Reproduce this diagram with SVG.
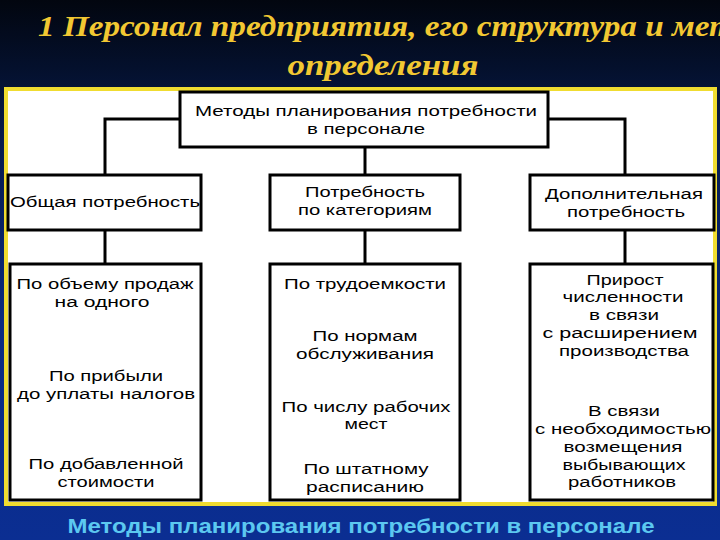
<svg xmlns="http://www.w3.org/2000/svg" width="720" height="540" viewBox="0 0 720 540">
<defs>
<linearGradient id="bg" x1="0" y1="0" x2="0" y2="1">
<stop offset="0" stop-color="#02060f"/>
<stop offset="0.25" stop-color="#061a4a"/>
<stop offset="0.6" stop-color="#0a2a80"/>
<stop offset="1" stop-color="#0b2e92"/>
</linearGradient>
<style>
.box{fill:#ffffff;stroke:#000000;stroke-width:3}
.ln{fill:none;stroke:#000000;stroke-width:3}
.t{font-family:"Liberation Sans",Arial,sans-serif;font-size:14px;fill:#000000;text-anchor:middle}
.title{font-family:"Liberation Serif","Times New Roman",serif;font-style:italic;font-weight:bold;font-size:30px;fill:#f2c832}
.cap{font-family:"Liberation Sans",Arial,sans-serif;font-weight:bold;font-size:20px;fill:#5cc8f0;text-anchor:middle}
</style>
</defs>
<rect x="0" y="0" width="720" height="540" fill="url(#bg)"/>
<g id="title">
<text class="title" x="38" y="36" textLength="752" lengthAdjust="spacingAndGlyphs">1 Персонал предприятия, его структура и методы</text>
<text class="title" x="383" y="75" text-anchor="middle" textLength="191" lengthAdjust="spacingAndGlyphs">определения</text>
</g>
<rect id="panel" x="6" y="89" width="709" height="415" fill="#ffffff" stroke="#f0dc30" stroke-width="4"/>
<g id="connectors">
<polyline class="ln" points="180,119 105,119 105,175"/>
<polyline class="ln" points="548,119 625,119 625,175"/>
<line class="ln" x1="365" y1="147" x2="365" y2="175"/>
<line class="ln" x1="105" y1="230" x2="105" y2="264"/>
<line class="ln" x1="365" y1="230" x2="365" y2="264"/>
<line class="ln" x1="625" y1="230" x2="625" y2="264"/>
</g>
<g id="root">
<rect class="box" x="180" y="92" width="368" height="55"/>
<text class="t" x="366" y="116" textLength="342" lengthAdjust="spacingAndGlyphs">Методы планирования потребности</text>
<text class="t" x="366" y="134" textLength="118" lengthAdjust="spacingAndGlyphs">в персонале</text>
</g>
<g id="general">
<rect class="box" x="8" y="175" width="193" height="55"/>
<text class="t" x="105" y="207" textLength="190" lengthAdjust="spacingAndGlyphs">Общая потребность</text>
</g>
<g id="category">
<rect class="box" x="270" y="175" width="190" height="55"/>
<text class="t" x="365" y="197" textLength="120" lengthAdjust="spacingAndGlyphs">Потребность</text>
<text class="t" x="365" y="215" textLength="134" lengthAdjust="spacingAndGlyphs">по категориям</text>
</g>
<g id="additional">
<rect class="box" x="530" y="175" width="184" height="55"/>
<text class="t" x="624" y="199" textLength="158" lengthAdjust="spacingAndGlyphs">Дополнительная</text>
<text class="t" x="626" y="217" textLength="118" lengthAdjust="spacingAndGlyphs">потребность</text>
</g>
<g id="general-methods">
<rect class="box" x="10" y="264" width="191" height="236"/>
<text class="t" x="105" y="289" textLength="177" lengthAdjust="spacingAndGlyphs">По объему продаж</text>
<text class="t" x="102" y="307" textLength="95" lengthAdjust="spacingAndGlyphs">на одного</text>
<text class="t" x="106" y="381" textLength="114" lengthAdjust="spacingAndGlyphs">По прибыли</text>
<text class="t" x="106" y="399" textLength="178" lengthAdjust="spacingAndGlyphs">до уплаты налогов</text>
<text class="t" x="106" y="469" textLength="155" lengthAdjust="spacingAndGlyphs">По добавленной</text>
<text class="t" x="106" y="487" textLength="97" lengthAdjust="spacingAndGlyphs">стоимости</text>
</g>
<g id="category-methods">
<rect class="box" x="270" y="264" width="190" height="236"/>
<text class="t" x="365" y="289" textLength="162" lengthAdjust="spacingAndGlyphs">По трудоемкости</text>
<text class="t" x="365" y="341" textLength="105" lengthAdjust="spacingAndGlyphs">По нормам</text>
<text class="t" x="365" y="359" textLength="138" lengthAdjust="spacingAndGlyphs">обслуживания</text>
<text class="t" x="366" y="412" textLength="169" lengthAdjust="spacingAndGlyphs">По числу рабочих</text>
<text class="t" x="366" y="429" textLength="43" lengthAdjust="spacingAndGlyphs">мест</text>
<text class="t" x="366" y="474" textLength="125" lengthAdjust="spacingAndGlyphs">По штатному</text>
<text class="t" x="365" y="492" textLength="118" lengthAdjust="spacingAndGlyphs">расписанию</text>
</g>
<g id="additional-methods">
<rect class="box" x="530" y="264" width="183" height="236"/>
<text class="t" x="625" y="285" textLength="77" lengthAdjust="spacingAndGlyphs">Прирост</text>
<text class="t" x="623" y="302" textLength="121" lengthAdjust="spacingAndGlyphs">численности</text>
<text class="t" x="624" y="320" textLength="70" lengthAdjust="spacingAndGlyphs">в связи</text>
<text class="t" x="620" y="338" textLength="155" lengthAdjust="spacingAndGlyphs">с расширением</text>
<text class="t" x="624" y="356" textLength="130" lengthAdjust="spacingAndGlyphs">производства</text>
<text class="t" x="624" y="416" textLength="72" lengthAdjust="spacingAndGlyphs">В связи</text>
<text class="t" x="623" y="434" textLength="176" lengthAdjust="spacingAndGlyphs">с необходимостью</text>
<text class="t" x="623" y="452" textLength="119" lengthAdjust="spacingAndGlyphs">возмещения</text>
<text class="t" x="624" y="470" textLength="123" lengthAdjust="spacingAndGlyphs">выбывающих</text>
<text class="t" x="622" y="487" textLength="108" lengthAdjust="spacingAndGlyphs">работников</text>
</g>
<text class="cap" x="361" y="533" textLength="587" lengthAdjust="spacingAndGlyphs">Методы планирования потребности в персонале</text>
</svg>
